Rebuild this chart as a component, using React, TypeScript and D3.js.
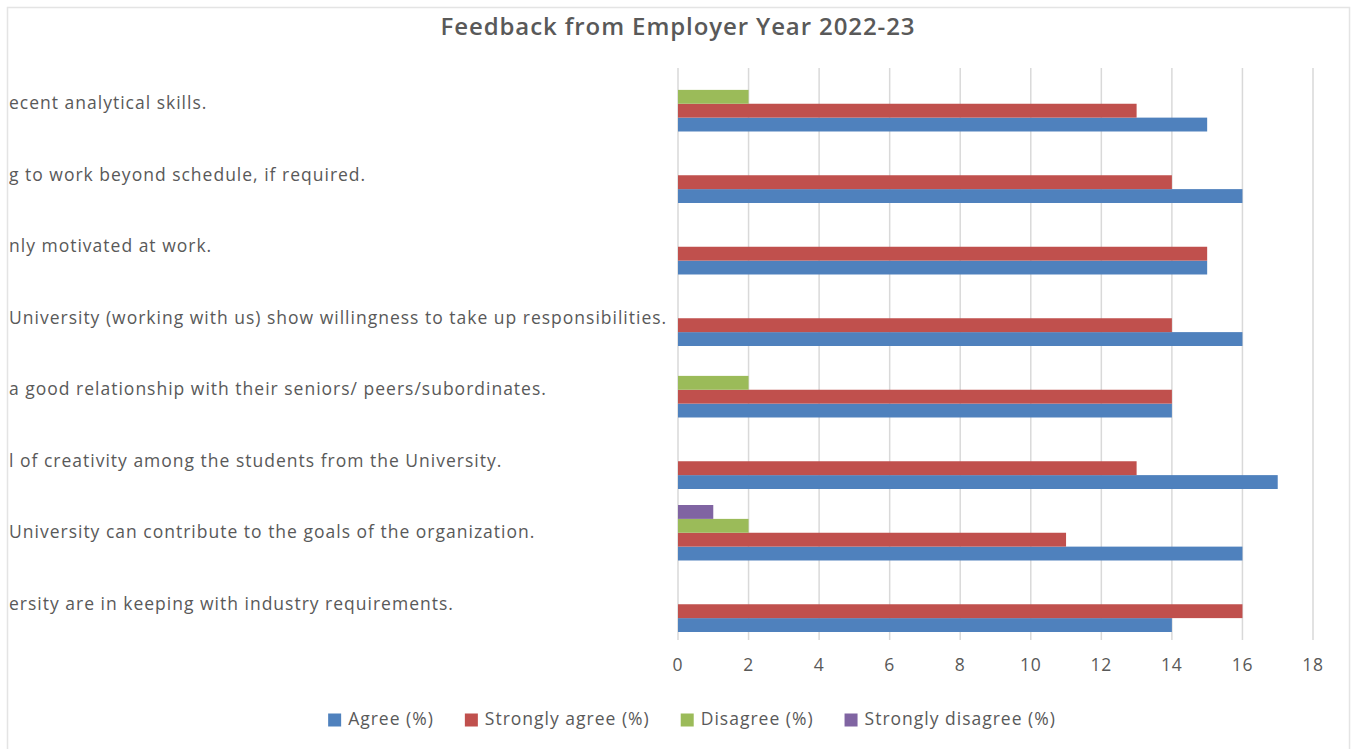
import React, { useEffect, useRef } from "react";
import * as d3 from "d3";

const title = "Feedback from Employer Year 2022-23";

const categories = [
  "ecent analytical skills.",
  "g to work beyond schedule, if required.",
  "nly motivated at work.",
  "University (working with us) show willingness to take up responsibilities.",
  "a good relationship with their seniors/ peers/subordinates.",
  "l of creativity among the students from the University.",
  "University can contribute to the goals of the organization.",
  "ersity are in keeping with industry requirements.",
];

const seriesNames = ["Agree (%)", "Strongly agree (%)", "Disagree (%)", "Strongly disagree (%)"];
const seriesColors = ["#4F81BD", "#C0504D", "#9BBB59", "#8064A2"];

const agree = [15, 16, 15, 16, 14, 17, 16, 14];
const stronglyAgree = [13, 14, 15, 14, 14, 13, 11, 16];
const disagree = [2, 0, 0, 0, 2, 0, 2, 0];
const stronglyDisagree = [0, 0, 0, 0, 0, 0, 1, 0];

const xTicks = [0, 2, 4, 6, 8, 10, 12, 14, 16, 18];

const W = 1352;
const H = 749;
const FONT = "'Open Sans', 'DejaVu Sans', sans-serif";
const TEXT = "#595959";

export default function App() {
  const ref = useRef<SVGSVGElement>(null);

  useEffect(() => {
    const svg = d3.select(ref.current);
    svg.selectAll("*").remove();

    const values = [agree, stronglyAgree, disagree, stronglyDisagree];

    // chart frame
    svg
      .append("rect")
      .attr("x", 7.5)
      .attr("y", 7.5)
      .attr("width", 1342)
      .attr("height", 760)
      .attr("fill", "#fff")
      .attr("stroke", "#e4e4e4")
      .attr("stroke-width", 1.5);

    const defs = svg.append("defs");
    defs
      .append("clipPath")
      .attr("id", "frameClip")
      .append("rect")
      .attr("x", 9)
      .attr("y", 9)
      .attr("width", 1340)
      .attr("height", 740);

    // title
    svg
      .append("text")
      .attr("x", 678)
      .attr("y", 29)
      .attr("text-anchor", "middle")
      .attr("dominant-baseline", "middle")
      .attr("font-family", FONT)
      .attr("font-size", 24)
      .attr("font-weight", 600)
      .attr("letter-spacing", 0.9)
      .attr("fill", TEXT)
      .text(title);

    const x = d3.scaleLinear().domain([0, 18]).range([678, 1313]);
    const y = d3
      .scaleBand<string>()
      .domain(categories)
      .range([68, 640])
      .paddingInner(0.224)
      .paddingOuter(0.112);
    const yInner = d3
      .scaleBand<string>()
      .domain([...seriesNames].reverse())
      .range([0, y.bandwidth()]);

    // gridlines
    svg
      .append("g")
      .selectAll("line")
      .data(xTicks)
      .join("line")
      .attr("x1", (d) => x(d))
      .attr("x2", (d) => x(d))
      .attr("y1", 68)
      .attr("y2", 640)
      .attr("stroke", "#d9d9d9")
      .attr("stroke-width", 1.5);

    // tick labels
    svg
      .append("g")
      .selectAll("text")
      .data(xTicks)
      .join("text")
      .attr("x", (d) => x(d))
      .attr("y", 666)
      .attr("text-anchor", "middle")
      .attr("dominant-baseline", "middle")
      .attr("font-family", FONT)
      .attr("font-size", 17.5)
      .attr("letter-spacing", 0.8)
      .attr("fill", TEXT)
      .text((d) => String(d));

    // bars
    const barsG = svg.append("g");
    seriesNames.forEach((s, si) => {
      barsG
        .append("g")
        .selectAll("rect")
        .data(categories.map((c, ci) => ({ c, v: values[si][ci] })).filter((d) => d.v > 0))
        .join("rect")
        .attr("x", x(0))
        .attr("y", (d) => (y(d.c) as number) + (yInner(s) as number))
        .attr("width", (d) => x(d.v) - x(0))
        .attr("height", yInner.bandwidth())
        .attr("fill", seriesColors[si]);
    });

    // category labels (clipped by chart frame)
    svg
      .append("g")
      .attr("clip-path", "url(#frameClip)")
      .selectAll("text")
      .data(categories)
      .join("text")
      .attr("x", 9)
      .attr("y", (d) => (y(d) as number) + y.bandwidth() / 2 + 1)
      .attr("dominant-baseline", "middle")
      .attr("font-family", FONT)
      .attr("font-size", 17.5)
      .attr("letter-spacing", 1.0)
      .attr("fill", TEXT)
      .text((d) => d);

    // legend
    const leg = svg.append("g");
    const items = leg
      .selectAll("g")
      .data(seriesNames)
      .join("g");
    items
      .append("rect")
      .attr("width", 13)
      .attr("height", 13)
      .attr("y", -6.5)
      .attr("fill", (_d, i) => seriesColors[i]);
    const texts = items
      .append("text")
      .attr("x", 20)
      .attr("dominant-baseline", "middle")
      .attr("font-family", FONT)
      .attr("font-size", 17.5)
      .attr("letter-spacing", 1.0)
      .attr("fill", TEXT)
      .text((d) => d);
    const widths: number[] = [];
    texts.each(function () {
      widths.push((this as SVGTextElement).getComputedTextLength() + 20);
    });
    const gap = 31;
    const total = d3.sum(widths) + gap * (widths.length - 1);
    let cx = 692 - total / 2;
    items.attr("transform", (_d, i) => {
      const t = `translate(${cx},720)`;
      cx += widths[i] + gap;
      return t;
    });
  }, []);

  return (
    <svg
      ref={ref}
      width={W}
      height={H}
      style={{ position: "absolute", left: 0, top: 0, background: "#fff" }}
    />
  );
}
